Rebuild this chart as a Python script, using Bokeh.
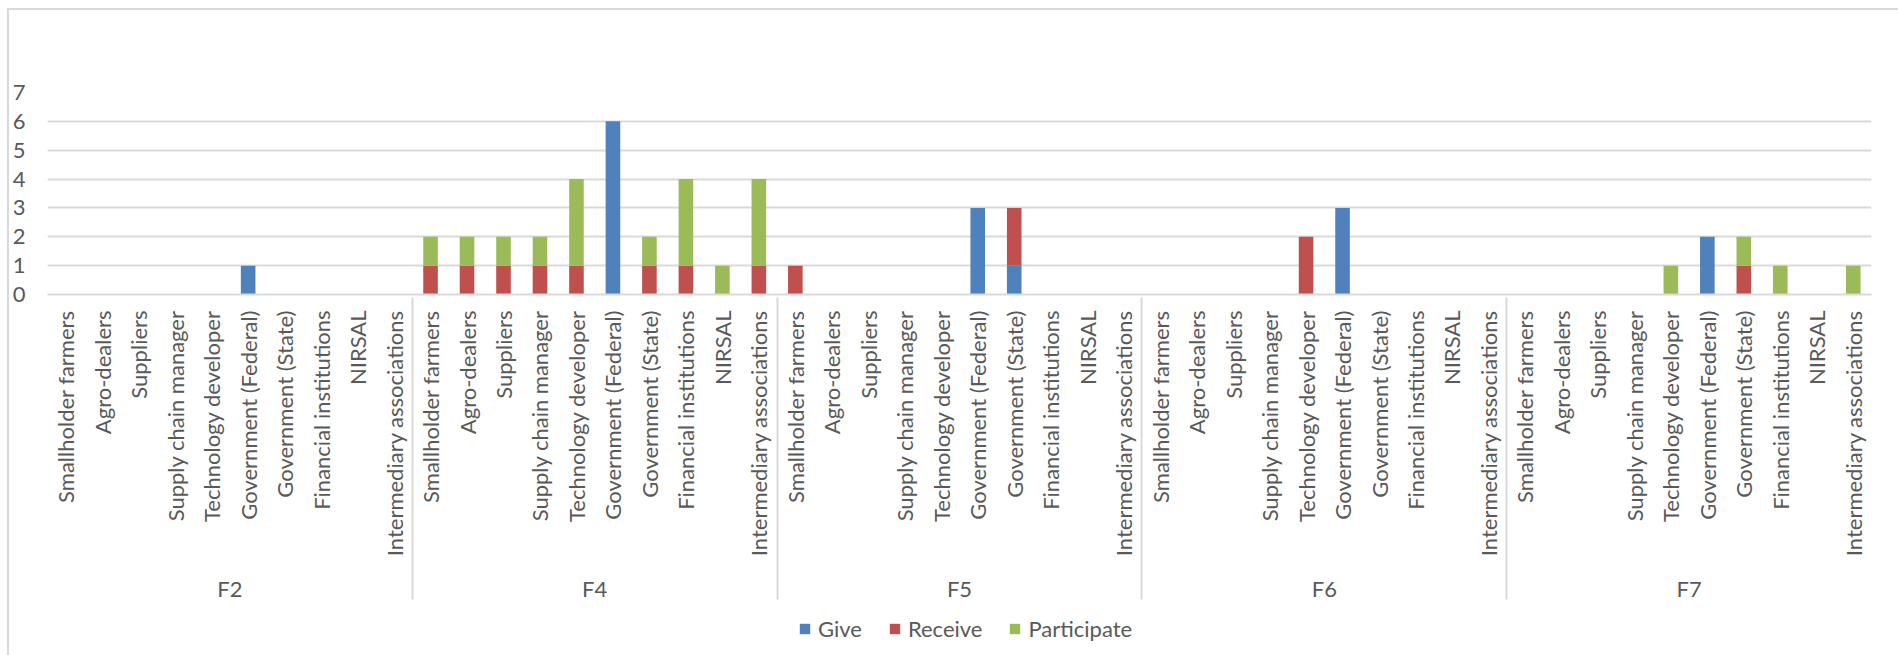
import math
from bokeh.plotting import figure
from bokeh.layouts import column
from bokeh.models import FactorRange, FixedTicker, Legend, LegendItem, Range1d
from bokeh.embed import file_html
from bokeh.resources import INLINE

groups = ["F2", "F4", "F5", "F6", "F7"]
categories = [
    "Smallholder farmers", "Agro-dealers", "Suppliers", "Supply chain manager",
    "Technology developer", "Government (Federal)", "Government (State)",
    "Financial institutions", "NIRSAL", "Intermediary associations",
]
series = ["Give", "Receive", "Participate"]
colors = ["#4F81BD", "#C0504D", "#9BBB59"]

give = [
    0, 0, 0, 0, 0, 1, 0, 0, 0, 0,   # F2
    0, 0, 0, 0, 0, 6, 0, 0, 0, 0,   # F4
    0, 0, 0, 0, 0, 3, 1, 0, 0, 0,   # F5
    0, 0, 0, 0, 0, 3, 0, 0, 0, 0,   # F6
    0, 0, 0, 0, 0, 2, 0, 0, 0, 0,   # F7
]
receive = [
    0, 0, 0, 0, 0, 0, 0, 0, 0, 0,   # F2
    1, 1, 1, 1, 1, 0, 1, 1, 0, 1,   # F4
    1, 0, 0, 0, 0, 0, 2, 0, 0, 0,   # F5
    0, 0, 0, 0, 2, 0, 0, 0, 0, 0,   # F6
    0, 0, 0, 0, 0, 0, 1, 0, 0, 0,   # F7
]
participate = [
    0, 0, 0, 0, 0, 0, 0, 0, 0, 0,   # F2
    1, 1, 1, 1, 3, 0, 1, 3, 1, 3,   # F4
    0, 0, 0, 0, 0, 0, 0, 0, 0, 0,   # F5
    0, 0, 0, 0, 0, 0, 0, 0, 0, 0,   # F6
    0, 0, 0, 0, 1, 0, 1, 1, 0, 1,   # F7
]
y_ticks = [0, 1, 2, 3, 4, 5, 6, 7]

factors = [(g, c) for g in groups for c in categories]
source = dict(x=factors, Give=give, Receive=receive, Participate=participate)

FONT = "Lato"
TXT = "#595959"
GRID = "#d9d9d9"

p = figure(
    x_range=FactorRange(*factors, group_padding=0, factor_padding=0, range_padding=0),
    y_range=Range1d(0, 7),
    frame_width=1822, frame_height=200,
    min_border_left=38, min_border_right=29, min_border_top=82, min_border_bottom=0,
    output_backend="svg", toolbar_location=None,
)
p.margin = (8, 0, 0, 7)
p.styles = {"border-top": "2px solid #d9d9d9", "border-left": "2px solid #d9d9d9"}
p.outline_line_color = None

renderers = p.vbar_stack(series, x="x", width=0.4, color=colors, line_color=None, source=source)

p.xgrid.grid_line_color = None
p.ygrid.grid_line_color = GRID
p.ygrid.grid_line_width = 1.8

p.yaxis.ticker = FixedTicker(ticks=y_ticks)
p.yaxis.axis_line_color = None
p.yaxis.major_tick_line_color = None
p.yaxis.minor_tick_line_color = None
p.yaxis.major_label_text_font = FONT
p.yaxis.major_label_text_font_size = "22px"
p.yaxis.major_label_text_color = TXT
p.yaxis.major_label_standoff = 16

xa = p.xaxis[0]
xa.axis_line_color = GRID
xa.axis_line_width = 1.8
xa.major_tick_line_color = None
xa.minor_tick_line_color = None
xa.major_tick_out = 0
xa.major_tick_in = 0
xa.major_label_orientation = math.pi / 2
xa.major_label_standoff = 16
xa.major_label_text_font = FONT
xa.major_label_text_font_size = "22px"
xa.major_label_text_color = TXT
xa.group_label_orientation = "horizontal"
xa.group_text_font = FONT
xa.group_text_font_size = "22px"
xa.group_text_color = TXT
xa.group_text_font_style = "normal"
xa.separator_line_color = GRID
xa.separator_line_width = 2

# legend strip directly below the chart; key renderers sit outside its visible range
lg = figure(
    width=1889, height=52, x_range=Range1d(0, 1), y_range=Range1d(0, 1),
    x_axis_type=None, y_axis_type=None, min_border=0,
    output_backend="svg", toolbar_location=None,
)
lg.margin = (0, 0, 0, 7)
lg.styles = {"border-left": "2px solid #d9d9d9"}
lg.outline_line_color = None
lg.xgrid.visible = False
lg.ygrid.visible = False
keys = [
    lg.vbar(x=[-5.0], top=[-5.0], bottom=[-6.0], width=0.1, color=c, line_color=None)
    for c in colors
]

legend = Legend(
    items=[LegendItem(label=s, renderers=[r]) for s, r in zip(series, keys)],
    orientation="horizontal", location=(751, 13),
    label_text_font=FONT, label_text_font_size="22px", label_text_color=TXT,
    glyph_width=13, glyph_height=13, label_standoff=7, spacing=26,
    border_line_color=None, background_fill_alpha=0, padding=0, margin=0,
)
lg.add_layout(legend, "center")

layout = column(p, lg, spacing=0)
open("out.html", "w").write(file_html(layout, INLINE))
